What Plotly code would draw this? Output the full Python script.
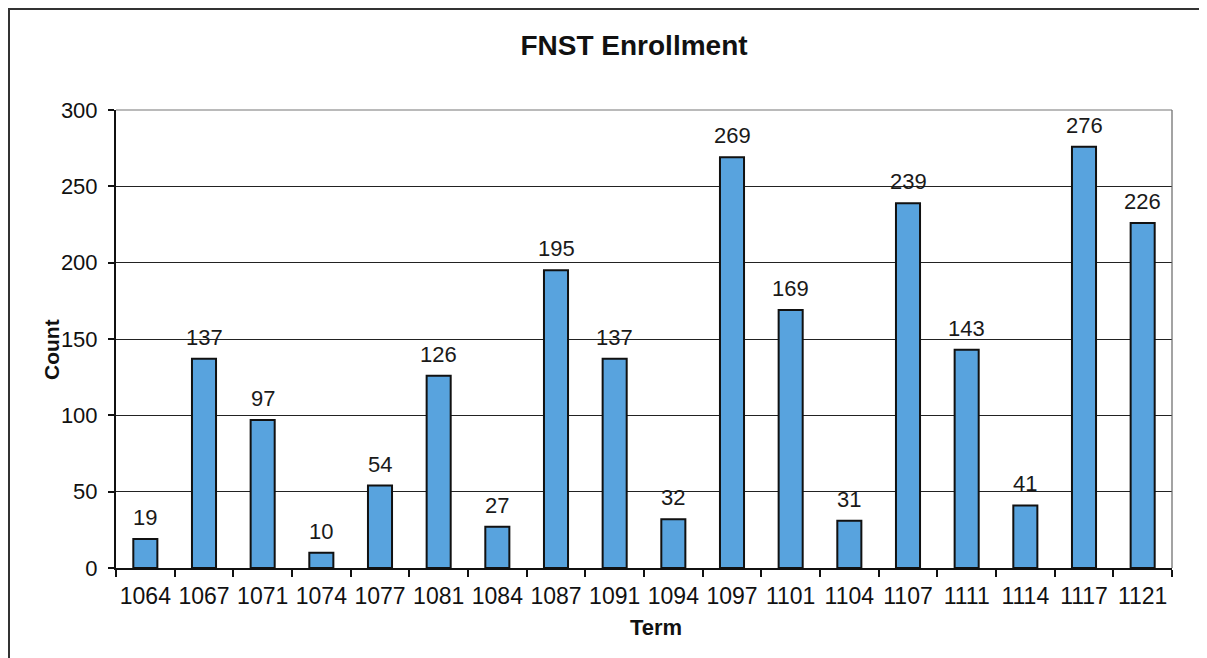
import plotly.graph_objects as go

terms = ["1064", "1067", "1071", "1074", "1077", "1081", "1084", "1087", "1091",
         "1094", "1097", "1101", "1104", "1107", "1111", "1114", "1117", "1121"]
counts = [19, 137, 97, 10, 54, 126, 27, 195, 137, 32, 269, 169, 31, 239, 143, 41, 276, 226]
y_ticks = [0, 50, 100, 150, 200, 250, 300]

FONT = "Liberation Sans, Arial, sans-serif"

# The page body has an 8px margin; figure is sized to fit inside the window.
OFF = 8
W, H = 1199, 650
L, R, T, B = 108, 35, 102, 90
pw, ph = W - L - R, H - T - B


def fx(page_x):
    return (page_x - OFF - L) / pw


def fy(page_y):
    return (H - B - (page_y - OFF)) / ph


fig = go.Figure()
fig.add_trace(go.Bar(
    x=terms, y=counts,
    marker=dict(color="#58A3DE", line=dict(color="#111111", width=2)),
    hoverinfo="x+y",
))

# category axis: annotation x given as the category's serial index
annotations = [
    dict(x=i, y=c, xref="x", yref="y", text=str(c), showarrow=False,
         yanchor="bottom", yshift=7,
         font=dict(family=FONT, size=22, color="#1a1a1a"))
    for i, c in enumerate(counts)
]
annotations += [
    dict(text="<b>Count</b>", xref="paper", yref="paper", x=fx(51), y=fy(350),
         xanchor="center", yanchor="middle", textangle=-90, showarrow=False,
         font=dict(family=FONT, size=21, color="#111111")),
    dict(text="<b>Term</b>", xref="paper", yref="paper", x=fx(656), y=fy(627),
         xanchor="center", yanchor="middle", showarrow=False,
         font=dict(family=FONT, size=22, color="#111111")),
]

fig.update_layout(
    width=W, height=H,
    margin=dict(l=L, r=R, t=T, b=B),
    paper_bgcolor="white", plot_bgcolor="white",
    bargap=0.59,
    showlegend=False,
    title=dict(text="<b>FNST Enrollment</b>", x=(634 - OFF) / W, xanchor="center",
               y=1 - (45 - OFF) / H, yanchor="middle",
               font=dict(family=FONT, size=28, color="#111111")),
    font=dict(family=FONT, color="#111111"),
    xaxis=dict(
        type="category",
        range=[-0.5, len(terms) - 0.5],
        tickfont=dict(family=FONT, size=23, color="#111111"),
        tickangle=0,
        showline=True, linecolor="#111111", linewidth=2,
        ticks="outside", tickson="boundaries", ticklen=7, tickcolor="#111111", tickwidth=2,
        ticklabelstandoff=6,
        showgrid=False,
    ),
    yaxis=dict(
        range=[0, 300], tickvals=y_ticks,
        tickfont=dict(family=FONT, size=22, color="#111111"),
        showline=True, linecolor="#111111", linewidth=2,
        ticks="outside", ticklen=6, tickcolor="#111111", tickwidth=2,
        ticklabelstandoff=6,
        showgrid=True, gridcolor="#222222", gridwidth=1.4,
        zeroline=False,
    ),
    annotations=annotations,
    shapes=[
        dict(type="rect", xref="paper", yref="paper",
             x0=fx(9), x1=fx(1203), y0=fy(670), y1=fy(9),
             line=dict(color="#333333", width=2), fillcolor="rgba(0,0,0,0)", layer="above"),
        dict(type="line", xref="paper", yref="paper",
             x0=1, x1=1, y0=0, y1=1, line=dict(color="#666666", width=1.2)),
        dict(type="line", xref="paper", yref="paper",
             x0=0, x1=1, y0=1, y1=1, line=dict(color="#777777", width=1.2)),
    ],
)

fig.write_html("out.html")
